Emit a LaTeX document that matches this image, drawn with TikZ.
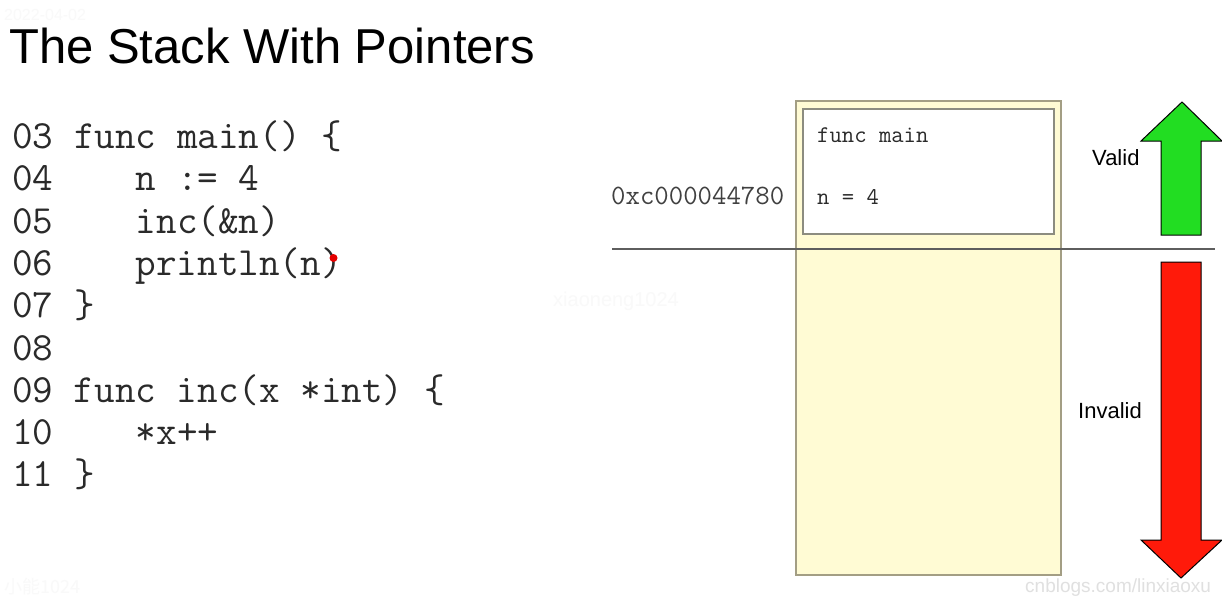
\documentclass[tikz,border=0pt]{standalone}
\usepackage{fontspec}
\setmainfont{Liberation Sans}
\newfontfamily\cjkfont{Noto Sans CJK SC}
\definecolor{stackfill}{HTML}{FFFBD4}
\definecolor{stackedge}{HTML}{A39E84}
\definecolor{frameedge}{HTML}{8C8C80}
\definecolor{sepline}{HTML}{5E5E5E}
\definecolor{validgreen}{HTML}{22DD22}
\definecolor{invalidred}{HTML}{FF1A0A}
\definecolor{wm}{HTML}{F9F9F9}
\definecolor{wmdark}{HTML}{E0E0E0}
\definecolor{codetext}{HTML}{2A2A2A}
\tikzset{
  codeline/.style={anchor=base west, inner sep=0pt, text=codetext, font=\ttfamily\fontsize{40}{40}\selectfont},
  smallcode/.style={anchor=base west, inner sep=0pt, text=codetext, font=\ttfamily\fontsize{24}{24}\selectfont},
  addr/.style={anchor=base west, inner sep=0pt, font=\ttfamily\fontsize{28}{28}\selectfont, text=black!75},
  label/.style={anchor=base west, inner sep=0pt, font=\fontsize{22}{22}\selectfont},
  arrowshape/.style={draw=black, line width=1pt, line join=miter},
  watermark/.style={anchor=base west, inner sep=0pt, text=wm}
}
\begin{document}
\begin{tikzpicture}[x=1pt,y=-1pt]
\useasboundingbox[fill=white] (0,0) rectangle (1222,597);

% watermarks
\node[watermark, font=\fontsize{16}{16}\selectfont] (wmdate) at (4,20) {2022-04-02};
\node[watermark, font=\fontsize{20}{20}\selectfont] (wmname) at (553,306) {xiaoneng1024};
\node[watermark, font=\cjkfont\fontsize{18}{18}\selectfont] (wmcjk) at (4,593) {小能1024};
\node[anchor=base west, inner sep=0pt, text=wmdark, font=\fontsize{19}{19}\selectfont] (wmsite) at (1025,592) {cnblogs.com/linxiaoxu};

% title
\node[anchor=base west, inner sep=0pt, font=\fontsize{49}{49}\selectfont] (title) at (9,63) {The Stack With Pointers};

% code
\node[codeline] (l03) at (12,148) {03 func main() \{};
\node[codeline] (l04) at (12,190) {04 \ \ \ n := 4};
\node[codeline] (l05) at (12,233) {05 \ \ \ inc(\&n)};
\node[codeline] (l06) at (12,275) {06 \ \ \ println(n)};
\node[codeline] (l07) at (12,317) {07 \}};
\node[codeline] (l08) at (12,360) {08};
\node[codeline] (l09) at (12,402) {09 func inc(x *int) \{};
\node[codeline] (l10) at (12,444) {10 \ \ \ *x++};
\node[codeline] (l11) at (12,486) {11 \}};
\fill[red!90!black] (333.5,258) circle (4);

% stack
\draw[stackedge, fill=stackfill, line width=1.3pt] (796,101) rectangle (1061,575);
\draw[frameedge, fill=white, line width=1.3pt] (803,109) rectangle (1054,234);
\node[smallcode] (fmain) at (817,142) {func main};
\node[smallcode] (nval) at (817,204) {n = 4};
\node[addr] (address) at (611,204) {0xc000044780};

% separator line
\draw[sepline, line width=2pt] (612,249) -- (1215,249);

% valid arrow
\draw[arrowshape, fill=validgreen]
  (1182,102) -- (1222,141) -- (1201,141) -- (1201,235) -- (1161,235) -- (1161,141) -- (1141,141) -- cycle;
\node[label] (valid) at (1092,165) {Valid};

% invalid arrow
\draw[arrowshape, fill=invalidred]
  (1161,262) -- (1201,262) -- (1201,540) -- (1222,540) -- (1181,578) -- (1141,540) -- (1161,540) -- cycle;
\node[label] (invalid) at (1078,418) {Invalid};
\end{tikzpicture}
\end{document}
